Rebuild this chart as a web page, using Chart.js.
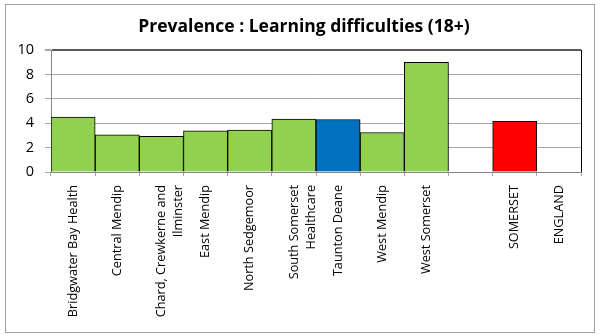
<!DOCTYPE html>
<html><head><meta charset="utf-8">
<script src="https://cdn.jsdelivr.net/npm/chart.js@4/dist/chart.umd.min.js"></script>
<style>html,body{margin:0;padding:0;background:#fff}#wrap{width:600px;height:336px}</style>
</head><body><div id="wrap"><canvas id="c" width="600" height="336"></canvas></div>
<script>
const categories = [
  'Bridgwater Bay Health', 'Central Mendip', ['Chard, Crewkerne and', 'Ilminster'],
  'East Mendip', 'North Sedgemoor', ['South Somerset', 'Healthcare'], 'Taunton Deane',
  'West Mendip', 'West Somerset', '', 'SOMERSET', 'ENGLAND'
];
const values = [4.5, 3.05, 2.92, 3.38, 3.43, 4.33, 4.3, 3.24, 8.98, null, 4.15, null];
const barColors = ['#92D050','#92D050','#92D050','#92D050','#92D050','#92D050','#0070C0','#92D050','#92D050','#92D050','#FF0000','#92D050'];
const yTicks = [0, 2, 4, 6, 8, 10];
const titleText = 'Prevalence : Learning difficulties (18+)';
const FONT = 'Open Sans';

const frame = {
  id: 'frame',
  beforeDraw(chart) {
    const ctx = chart.ctx;
    ctx.save();
    ctx.fillStyle = '#fff';
    ctx.fillRect(0, 0, chart.width, chart.height);
    ctx.strokeStyle = '#a0a0a0';
    ctx.lineWidth = 1;
    ctx.strokeRect(5.5, 4.5, 589, 328);
    ctx.restore();
  },
  afterDatasetsDraw(chart) {
    const a = chart.chartArea, ctx = chart.ctx;
    ctx.save();
    ctx.strokeStyle = '#000';
    ctx.lineWidth = 1;
    ctx.beginPath();
    ctx.moveTo(Math.round(a.right) + 0.5, a.top);
    ctx.lineTo(Math.round(a.right) + 0.5, a.bottom);
    ctx.stroke();
    ctx.restore();
  }
};

new Chart(document.getElementById('c'), {
  type: 'bar',
  data: {
    labels: categories,
    datasets: [{
      data: values,
      backgroundColor: barColors,
      borderColor: '#000',
      borderWidth: 1,
      barPercentage: 1,
      categoryPercentage: 1
    }]
  },
  options: {
    responsive: false,
    animation: false,
    layout: { padding: { top: 0, left: 14, right: 6, bottom: 0 } },
    plugins: {
      legend: { display: false },
      tooltip: { enabled: false },
      title: {
        display: true,
        text: titleText,
        color: '#000',
        font: { family: FONT, size: 17.5, weight: 'bold', lineHeight: 1.2 },
        padding: { top: 17, bottom: 12 }
      }
    },
    scales: {
      x: {
        offset: true,
        afterFit(s) { s.height = 164; },
        grid: { offset: true, drawOnChartArea: false, drawTicks: true, tickLength: 4, color: '#a6a6a6' },
        border: { color: '#868686', width: 1 },
        ticks: { maxRotation: 90, minRotation: 90, autoSkip: false, padding: 9, color: '#000',
                 font: { family: FONT, size: 12.7, lineHeight: 1.35 } }
      },
      y: {
        min: 0, max: 10,
        afterFit(s) { s.width = 37; },
        afterBuildTicks(s) { s.ticks = yTicks.map(v => ({ value: v })); },
        grid: {
          color: ctx => ctx.tick && ctx.tick.value === 10 ? '#595959' : '#a6a6a6',
          lineWidth: ctx => ctx.tick && ctx.tick.value === 10 ? 2 : 1,
          tickColor: '#a6a6a6', tickLength: 6
        },
        border: { color: '#868686', width: 1 },
        ticks: { padding: 11, color: '#000', font: { family: FONT, size: 14.5 } }
      },
      yRight: {
        position: 'right',
        display: true,
        min: 0, max: 10,
        afterFit(s) { s.width = 13; },
        grid: { display: false, drawTicks: false },
        border: { display: false },
        ticks: { display: false }
      }
    }
  },
  plugins: [frame]
});
</script></body></html>
